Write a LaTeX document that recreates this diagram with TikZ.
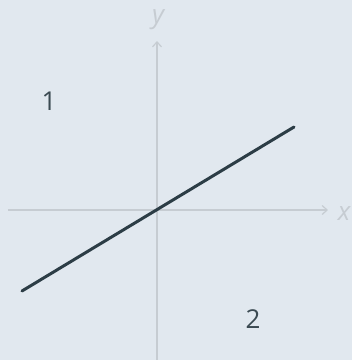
\documentclass[tikz,border=0pt]{standalone}
\usepackage{fontspec}
\setmainfont{Open Sans}
\usetikzlibrary{arrows.meta}
\definecolor{bg}{HTML}{E1E8EF}
\definecolor{axisgray}{HTML}{C6CCD2}
\definecolor{linedark}{HTML}{2C3D46}
\definecolor{labeldark}{HTML}{3B4A52}
\begin{document}
\begin{tikzpicture}[x=1pt,y=-1pt,
  axisline/.style={draw=axisgray, line width=1.2pt, -{Straight Barb[length=5pt,width=9pt,line width=1.2pt]}},
  axislabel/.style={text=axisgray, font=\fontsize{26}{26}\selectfont\itshape, anchor=base, inner sep=0pt},
  regionlabel/.style={text=labeldark, font=\fontsize{26}{26}\selectfont, anchor=base, inner sep=0pt},
  mainline/.style={draw=linedark, line width=3pt, line cap=round}]
\fill[bg] (0,0) rectangle (352,360);
\useasboundingbox (0,0) rectangle (352,360);
\coordinate (xs) at (8,210);
\coordinate (xe) at (328,210);
\coordinate (ys) at (157,360);
\coordinate (ye) at (157,41);
\draw[axisline] (xs) -- (xe);
\draw[axisline] (ys) -- (ye);
\node[axislabel] (xl) at (344,220) {x};
\node[axislabel] (yl) at (158,23) {y};
\coordinate (la) at (22,291);
\coordinate (lb) at (294,127);
\draw[mainline] (la) -- (lb);
\node[regionlabel] (r1) at (49,110) {1};
\node[regionlabel] (r2) at (253,328) {2};
\end{tikzpicture}
\end{document}
